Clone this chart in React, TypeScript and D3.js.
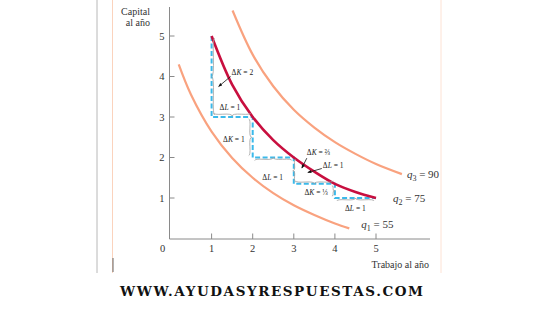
import React from 'react';
import * as d3 from 'd3';

// Data
const stepL = [1, 2, 3, 4, 5];
const stepK = [5, 3, 2, 1.35, 1];
const deltaK = ['2', '1', '⅔', '⅓'];
const deltaL = ['1', '1', '1', '1'];

const q1L = [0.2, 0.5, 1, 1.5, 2, 2.5, 3, 3.5, 4, 4.35];
const q1K = [4.3, 3.55, 2.64, 1.99, 1.5, 1.12, 0.82, 0.58, 0.37, 0.25];
const q2L = [1, 1.5, 2, 2.5, 3, 3.5, 4, 4.5, 5];
const q2K = [5, 3.8, 3, 2.43, 2, 1.65, 1.35, 1.15, 1];
const q3L = [1.51, 2, 2.5, 3, 3.5, 4, 4.5, 5, 5.63];
const q3K = [5.63, 4.54, 3.76, 3.18, 2.74, 2.38, 2.09, 1.84, 1.59];

const curveNames = ['1', '2', '3'];
const curveValues = ['55', '75', '90'];

const xTicks = [1, 2, 3, 4, 5];
const yTicks = [1, 2, 3, 4, 5];

function brace(x1: number, y1: number, x2: number, y2: number, w: number, q = 0.6) {
  let dx = x1 - x2;
  let dy = y1 - y2;
  const len = Math.sqrt(dx * dx + dy * dy);
  dx /= len;
  dy /= len;
  const qx1 = x1 + q * w * dy, qy1 = y1 - q * w * dx;
  const qx2 = x1 - 0.25 * len * dx + (1 - q) * w * dy, qy2 = y1 - 0.25 * len * dy - (1 - q) * w * dx;
  const tx1 = x1 - 0.5 * len * dx + w * dy, ty1 = y1 - 0.5 * len * dy - w * dx;
  const qx3 = x2 + q * w * dy, qy3 = y2 - q * w * dx;
  const qx4 = x1 - 0.75 * len * dx + (1 - q) * w * dy, qy4 = y1 - 0.75 * len * dy - (1 - q) * w * dx;
  return `M${x1},${y1}Q${qx1},${qy1} ${qx2},${qy2}T${tx1},${ty1}M${x2},${y2}Q${qx3},${qy3} ${qx4},${qy4}T${tx1},${ty1}`;
}

// annotation layout (pixel offsets)
const layout = [
  { vOff: 3, vDir: 1, hOff: -4, hDir: -1, kx: 20, ky: -2, kAnchor: 'start', arrow: [19, 0, 7, 10] as null | number[], lx: 8, ly: -7, lAnchor: 'start', lArrow: null as null | number[] },
  { vOff: -4, vDir: -1, hOff: 3, hDir: 1, kx: -8, ky: 4.5, kAnchor: 'end', arrow: null, lx: 20, ly: 22, lAnchor: 'middle', lArrow: null },
  { vOff: 2, vDir: 1, hOff: -3, hDir: -1, kx: 13, ky: -16, kAnchor: 'start', arrow: [13, -12.5, 8, -2.5], lx: 29, ly: -16, lAnchor: 'start', lArrow: [28, 11, 14, 15] },
  { vOff: -3, vDir: -1, hOff: 3, hDir: 1, kx: -7, ky: 4.5, kAnchor: 'end', arrow: null, lx: 20.5, ly: 12.5, lAnchor: 'middle', lArrow: null },
];

const serif = '"Liberation Serif", "DejaVu Serif", serif';

export default function App() {
  const x = d3.scaleLinear().domain([0, 5]).range([170.5, 376]);
  const y = d3.scaleLinear().domain([0, 5]).range([238.5, 36]);
  const line = d3
    .line<[number, number]>()
    .x((d) => x(d[0]))
    .y((d) => y(d[1]))
    .curve(d3.curveCatmullRom.alpha(0.5));
  const stepLine = d3
    .line<[number, number]>()
    .x((d) => x(d[0]))
    .y((d) => y(d[1]))
    .curve(d3.curveStepBefore);

  const q1 = line(q1L.map((l, i) => [l, q1K[i]]))!;
  const q2 = line(q2L.map((l, i) => [l, q2K[i]]))!;
  const q3 = line(q3L.map((l, i) => [l, q3K[i]]))!;
  const steps = stepLine(stepL.map((l, i) => [l, stepK[i]]))!;

  const orange = '#f9a27f';
  const crimson = '#c80f3f';
  const cyan = '#3bb9ea';
  const axisCol = '#8a8a8a';
  const braceCol = '#a0a0a0';

  const labelEnds = [
    [q1L[q1L.length - 1], q1K[q1K.length - 1], 12, 0],
    [q2L[q2L.length - 1], q2K[q2K.length - 1], 17, 4],
    [q3L[q3L.length - 1], q3K[q3K.length - 1], 5, 4],
  ];

  return (
    <svg
      width={560}
      height={315}
      style={{ position: 'absolute', left: 0, top: 0, background: '#fff' }}
      fontFamily={serif}
    >
      <defs>
        <marker id="ah" viewBox="0 0 10 10" refX="9" refY="5" markerWidth="5" markerHeight="5" orient="auto">
          <path d="M0,1 L10,5 L0,9 z" fill="#111" />
        </marker>
      </defs>
      {/* page frame */}
      <line x1={97} x2={97} y1={0} y2={273} stroke="#b8b8b8" strokeWidth={1} />
      <line x1={112.5} x2={112.5} y1={0} y2={273} stroke="#fbd3bd" strokeWidth={1} />
      <line x1={441} x2={441} y1={0} y2={273} stroke="#fde2d4" strokeWidth={1} />
      <line x1={113} x2={113} y1={258} y2={272} stroke="#666" strokeWidth={1} />

      {/* axes */}
      <line x1={x(0) - 1} x2={x(0) - 1} y1={7} y2={y(0) + 0.5} stroke={axisCol} strokeWidth={1} />
      <line x1={x(0) - 1} x2={430} y1={y(0) + 0.5} y2={y(0) + 0.5} stroke={axisCol} strokeWidth={1} />
      {yTicks.map((t) => (
        <g key={'y' + t}>
          <line x1={x(0) - 1} x2={x(0) + 4} y1={y(t)} y2={y(t)} stroke={axisCol} />
          <text x={x(0) - 6} y={y(t) + 3.5} fontSize={10.5} textAnchor="end" fill="#333">
            {t}
          </text>
        </g>
      ))}
      {xTicks.map((t) => (
        <g key={'x' + t}>
          <line x1={x(t)} x2={x(t)} y1={y(0) + 0.5} y2={y(0) - 5} stroke={axisCol} />
          <text x={x(t)} y={y(0) + 13} fontSize={10.5} textAnchor="middle" fill="#333">
            {t}
          </text>
        </g>
      ))}
      <text x={x(0) - 8} y={y(0) + 13} fontSize={10.5} textAnchor="middle" fill="#333">
        0
      </text>
      <text x={150} y={15} fontSize={10} textAnchor="end" fill="#333">
        Capital
      </text>
      <text x={150} y={26} fontSize={10} textAnchor="end" fill="#333">
        al año
      </text>
      <text x={429} y={268} fontSize={10} textAnchor="end" fill="#333">
        Trabajo al año
      </text>

      {/* isoquants */}
      <path d={q1} fill="none" stroke={orange} strokeWidth={2.2} />
      <path d={q3} fill="none" stroke={orange} strokeWidth={2.2} />
      <path d={steps} fill="none" stroke={cyan} strokeWidth={2} strokeDasharray="5,2.5" />
      <path d={q2} fill="none" stroke={crimson} strokeWidth={2.6} />

      {/* curve labels */}
      {labelEnds.map((e, i) => (
        <text key={'ql' + i} x={x(e[0]) + e[2]} y={y(e[1]) + e[3]} fontSize={11} fill="#333">
          <tspan fontStyle="italic">q</tspan>
          <tspan fontSize={8} dy={2.5}>
            {curveNames[i]}
          </tspan>
          <tspan dy={-2.5}>{' = ' + curveValues[i]}</tspan>
        </text>
      ))}

      {/* step annotations */}
      {deltaK.map((dk, i) => {
        const lay = layout[i];
        const xv = x(stepL[i]);
        const xn = x(stepL[i + 1]);
        const yt = y(stepK[i]);
        const yb = y(stepK[i + 1]);
        const ym = (yt + yb) / 2;
        const bx = xv + lay.vOff;
        const vb =
          lay.vDir > 0 ? brace(bx, yt + 2, bx, yb - 2, 3) : brace(bx, yb - 2, bx, yt + 2, 3);
        const by = yb + lay.hOff;
        const hb =
          lay.hDir < 0 ? brace(xv + 2, by, xn - 2, by, 3) : brace(xn - 2, by, xv + 2, by, 3);
        return (
          <g key={'a' + i}>
            <path d={vb} fill="none" stroke={braceCol} strokeWidth={0.8} />
            <path d={hb} fill="none" stroke={braceCol} strokeWidth={0.8} />
            <text x={xv + lay.kx} y={ym + lay.ky} fontSize={7.5} textAnchor={lay.kAnchor as any} fill="#222">
              Δ<tspan fontStyle="italic">K</tspan>
              {' = ' + dk}
            </text>
            {lay.arrow && (
              <line
                x1={xv + lay.arrow[0]}
                y1={ym + lay.arrow[1]}
                x2={xv + lay.arrow[2]}
                y2={ym + lay.arrow[3]}
                stroke="#111"
                strokeWidth={0.8}
                markerEnd="url(#ah)"
              />
            )}
            <text x={xv + lay.lx} y={yb + lay.ly} fontSize={7.5} textAnchor={lay.lAnchor as any} fill="#222">
              Δ<tspan fontStyle="italic">L</tspan>
              {' = ' + deltaL[i]}
            </text>
            {lay.lArrow && (
              <line
                x1={xv + lay.lArrow[0]}
                y1={yt + lay.lArrow[1]}
                x2={xv + lay.lArrow[2]}
                y2={yt + lay.lArrow[3]}
                stroke="#111"
                strokeWidth={0.8}
                markerEnd="url(#ah)"
              />
            )}
          </g>
        );
      })}

      {/* watermark */}
      <text
        x={120}
        y={296}
        fontSize={13.5}
        fontWeight="bold"
        fill="#111"
        fontFamily='"DejaVu Serif", serif'
        textLength={303}
        lengthAdjust="spacing"
      >
        WWW.AYUDASYRESPUESTAS.COM
      </text>
    </svg>
  );
}
